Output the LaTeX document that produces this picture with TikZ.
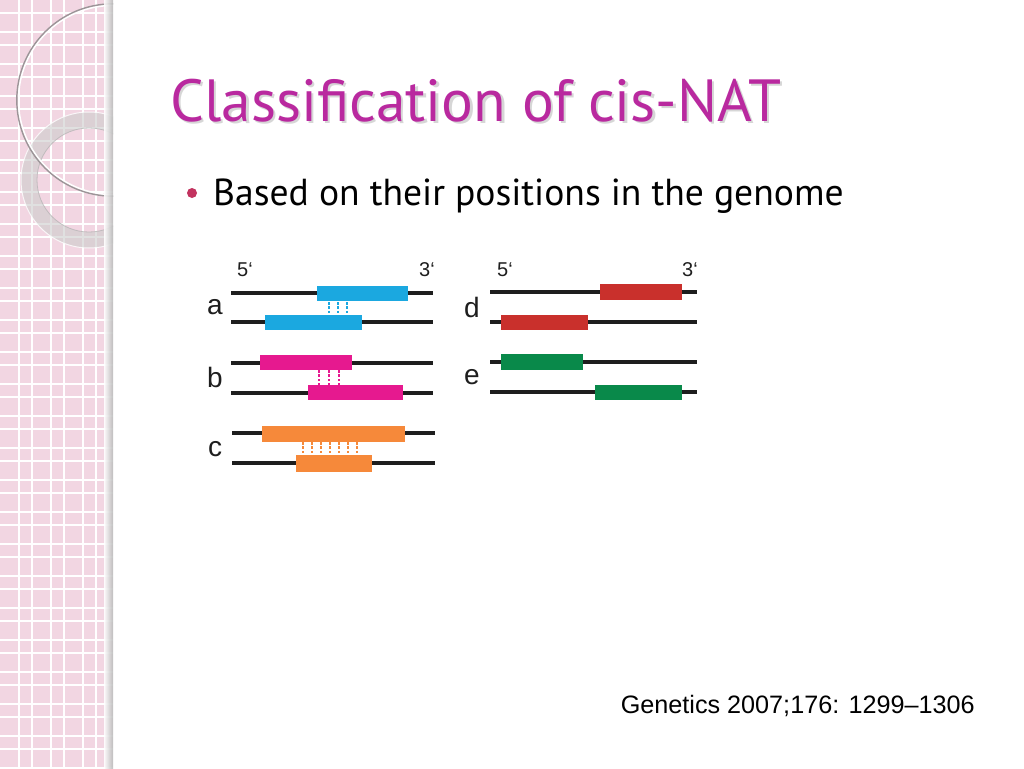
\documentclass[tikz,border=0pt]{standalone}
\usepackage{fontspec}
\setmainfont{PT Sans}
\newfontfamily\arialf{Liberation Sans}
\definecolor{stripbg}{HTML}{F2D6E2}
\definecolor{titlec}{HTML}{B9299F}
\definecolor{bulletc}{HTML}{C2335F}
\definecolor{cblue}{HTML}{1BA8E0}
\definecolor{cpink}{HTML}{E6198F}
\definecolor{corange}{HTML}{F6893A}
\definecolor{cred}{HTML}{C9302C}
\definecolor{cgreen}{HTML}{09894A}
\definecolor{strand}{HTML}{1E1E1E}
\tikzset{
  strandline/.style={draw=strand, line width=3.2pt},
  seg/.style={fill=#1},
  pair/.style={draw=#1, line width=2.8pt, dash pattern=on 2.6pt off 1.8pt},
  lbl/.style={font=\arialf\fontsize{28}{28}\selectfont, text=strand, inner sep=0pt},
  end/.style={font=\arialf\fontsize{20}{20}\selectfont, text=strand, inner sep=0pt},
}
\begin{document}
\begin{tikzpicture}[x=1pt,y=-1pt]
\useasboundingbox (0,0) rectangle (1024,768);
\fill[white] (0,0) rectangle (1024,768);
% decorative strip
\begin{scope}
\clip (0,0) rectangle (113,768);
\fill[stripbg] (0,0) rectangle (113,768);
\foreach \k in {0,...,24} {
  \draw[white, line width=1.1pt] (0,32*\k+13) -- (113,32*\k+13);
  \draw[white, line width=1.1pt] (0,32*\k+32) -- (113,32*\k+32);
}
\foreach \k in {0,...,3} {
  \draw[white, line width=1.1pt] (32*\k+19,0) -- (32*\k+19,768);
  \draw[white, line width=1.1pt] (32*\k+32,0) -- (32*\k+32,768);
}
\fill[gray!40, opacity=0.6, even odd rule] (89,180) circle (68) (89,180) circle (52);
\draw[gray!60, line width=0.8pt, opacity=0.7] (89,180) circle (52);
\draw[white, line width=1pt, opacity=0.8] (89,180) circle (68);
\draw[white, line width=1.6pt] (113,100) circle (94.6);
\draw[gray!75!stripbg, line width=1.4pt] (113,100) circle (96.2);
\shade[left color=stripbg!0, right color=gray!55, opacity=0.9] (104,0) rectangle (113,768);
\end{scope}
% title
\node[anchor=base west, inner sep=0pt, text=black!35, opacity=0.45,
  font=\fontsize{59.5}{60}\selectfont] at (172.5,123.5) {Classification of cis-NAT};
\node (title) [anchor=base west, inner sep=0pt, text=titlec,
  font=\fontsize{59.5}{60}\selectfont] at (170,121) {Classification of cis-NAT};
% bullet
\fill[bulletc] (192,193) circle (5);
\node (bullet) [anchor=base west, inner sep=0pt, text=black,
  font=\fontsize{37.6}{38}\selectfont] at (213,205) {Based on their positions in the genome};
% citation
\node (cite) [anchor=base east, inner sep=0pt, text=black,
  font=\arialf\fontsize{25.2}{26}\selectfont] at (975,713) {Genetics 2007;176: 1299–1306};
% ---- left panel
\node[end, anchor=base] at (245,276) {5‘};
\node[end, anchor=base] at (427,276) {3‘};
% a
\draw[strandline] (231,293) -- (433,293);
\draw[strandline] (231,322) -- (433,322);
\fill[seg=cblue] (317,286) rectangle (408,301);
\fill[seg=cblue] (265,315) rectangle (362,330);
\foreach \x in {329,338,347} \draw[pair=cblue] (\x,302) -- (\x,315);
\node[lbl] (la) at (215,307) {a};
% b
\draw[strandline] (231,363) -- (433,363);
\draw[strandline] (231,393) -- (433,393);
\fill[seg=cpink] (260,355) rectangle (352,370);
\fill[seg=cpink] (308,385) rectangle (403,400);
\foreach \x in {319,329,339} \draw[pair=cpink] (\x,370) -- (\x,385);
\node[lbl] (lb) at (215,377) {b};
% c
\draw[strandline] (232,433) -- (435,433);
\draw[strandline] (232,463) -- (435,463);
\fill[seg=corange] (262,426) rectangle (405,442);
\fill[seg=corange] (296,455) rectangle (372,472);
\foreach \x in {303,312,321,330,339,348,357} \draw[pair=corange] (\x,442) -- (\x,455);
\node[lbl] (lc) at (215,449) {c};
% ---- right panel
\node[end, anchor=base] at (505,276) {5‘};
\node[end, anchor=base] at (690,276) {3‘};
% d
\draw[strandline] (490,292) -- (697,292);
\draw[strandline] (490,322) -- (697,322);
\fill[seg=cred] (600,284) rectangle (682,300);
\fill[seg=cred] (501,315) rectangle (588,330);
\node[lbl] (ld) at (472,307) {d};
% e
\draw[strandline] (490,362) -- (697,362);
\draw[strandline] (490,392) -- (697,392);
\fill[seg=cgreen] (501,354) rectangle (583,370);
\fill[seg=cgreen] (595,385) rectangle (682,400);
\node[lbl] (le) at (472,377) {e};
\end{tikzpicture}
\end{document}
